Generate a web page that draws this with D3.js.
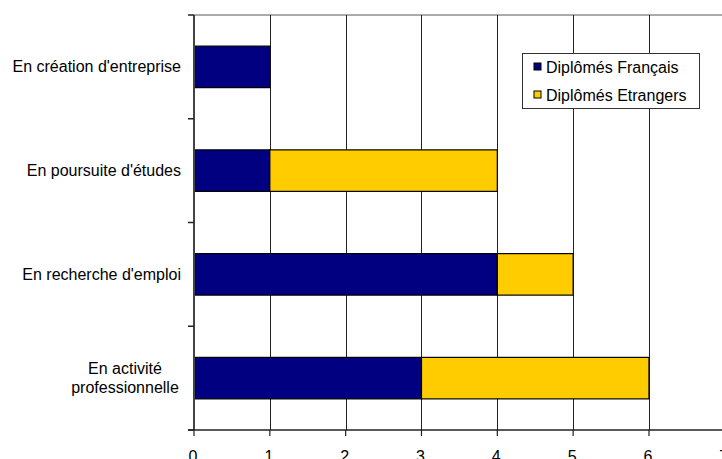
<!DOCTYPE html>
<html>
<head>
<meta charset="utf-8">
<script src="https://cdn.jsdelivr.net/npm/d3@7"></script>
<style>
  html, body { margin: 0; padding: 0; background: #fff; overflow: hidden; }
  svg { display: block; font-family: "Liberation Sans", Arial, sans-serif; }
</style>
</head>
<body>
<svg id="chart" width="722" height="459"></svg>
<script>
const categories = ["En création d'entreprise", "En poursuite d'études", "En recherche d'emploi", "En activité professionnelle"];
const categoryLines = [["En création d'entreprise"], ["En poursuite d'études"], ["En recherche d'emploi"], ["En activité", "professionnelle"]];
const seriesNames = ["Diplômés Français", "Diplômés Etrangers"];
const francais = [1, 1, 4, 3];
const etrangers = [0, 3, 1, 3];
const xTicks = [0, 1, 2, 3, 4, 5, 6, 7];
const colors = ["#000080", "#FFCC00"];

(function() {
const svg = d3.select("#chart");
const pLeft = 194, pTop = 15, pBottom = 430, pRight = 724.8;

const x = d3.scaleLinear().domain([0, 7]).range([pLeft, pRight]);
const y = d3.scaleBand().domain(categories).range([pTop, pBottom]).paddingInner(0.6).paddingOuter(0.3);

const rows = categories.map((c, i) => ({ cat: c, "Diplômés Français": francais[i], "Diplômés Etrangers": etrangers[i] }));
const stacked = d3.stack().keys(seriesNames)(rows);

// top border
svg.append("line").attr("x1", pLeft).attr("x2", pRight).attr("y1", pTop).attr("y2", pTop)
  .attr("stroke", "#aaa").attr("stroke-width", 2);

// gridlines
svg.append("g").selectAll("line").data(xTicks.filter(t => t > 0)).join("line")
  .attr("x1", d => Math.round(x(d)) + 0.5).attr("x2", d => Math.round(x(d)) + 0.5)
  .attr("y1", pTop).attr("y2", pBottom)
  .attr("stroke", "#222").attr("stroke-width", 1);

// bars
svg.append("g").selectAll("g").data(stacked).join("g")
  .attr("fill", (d, i) => colors[i])
  .selectAll("rect").data(d => d.filter(s => s[1] - s[0] > 0)).join("rect")
  .attr("x", d => x(d[0]))
  .attr("y", d => y(d.data.cat))
  .attr("width", d => x(d[1]) - x(d[0]))
  .attr("height", y.bandwidth())
  .attr("stroke", "#000").attr("stroke-width", 1.2);

// left axis line
svg.append("line").attr("x1", pLeft).attr("x2", pLeft).attr("y1", pTop).attr("y2", pBottom)
  .attr("stroke", "#444").attr("stroke-width", 2);
// category boundary ticks
const bounds = categories.map((c, i) => pTop + i * y.step());
bounds.push(pBottom);
svg.append("g").selectAll("line").data(bounds).join("line")
  .attr("x1", pLeft - 6).attr("x2", pLeft).attr("y1", d => d).attr("y2", d => d)
  .attr("stroke", "#222").attr("stroke-width", 1.5);

// bottom axis
svg.append("line").attr("x1", pLeft - 6).attr("x2", pRight + 2).attr("y1", pBottom).attr("y2", pBottom)
  .attr("stroke", "#222").attr("stroke-width", 1.5);
svg.append("g").selectAll("line").data(xTicks).join("line")
  .attr("x1", d => x(d)).attr("x2", d => x(d)).attr("y1", pBottom).attr("y2", pBottom + 6)
  .attr("stroke", "#222").attr("stroke-width", 1.2);
svg.append("g").selectAll("text").data(xTicks).join("text")
  .attr("x", d => x(d) - 1).attr("y", 462)
  .attr("text-anchor", "middle").attr("font-size", 16).attr("fill", "#000")
  .text(d => d);

// category labels
svg.append("g").selectAll("text").data(categories).join("text")
  .attr("y", d => y(d) + y.bandwidth() / 2)
  .attr("font-size", 16).attr("fill", "#000")
  .each(function(d, i) {
    const lines = categoryLines[i];
    const n = lines.length;
    const sel = d3.select(this);
    sel.attr("text-anchor", n === 1 ? "end" : "middle");
    sel.selectAll("tspan").data(lines).join("tspan")
      .attr("x", n === 1 ? 181 : 125)
      .attr("dy", (l, j) => j === 0 ? ((-(n - 1) / 2) * 19 + 5.5) : 19)
      .text(l => l);
  });

// legend
const lg = svg.append("g");
lg.append("rect").attr("x", 522.5).attr("y", 53.5).attr("width", 177).attr("height", 55)
  .attr("fill", "#fff").attr("stroke", "#333").attr("stroke-width", 1);
const items = lg.selectAll("g").data(seriesNames).join("g")
  .attr("transform", (d, i) => `translate(0, ${67 + i * 28})`);
items.append("rect").attr("x", 534).attr("y", -4).attr("width", 7).attr("height", 7)
  .attr("fill", (d, i) => colors[i]).attr("stroke", "#000").attr("stroke-width", 1);
items.append("text").attr("x", 546).attr("y", 5.5).attr("font-size", 16).attr("fill", "#000")
  .text(d => d);
})();
</script>
</body>
</html>
